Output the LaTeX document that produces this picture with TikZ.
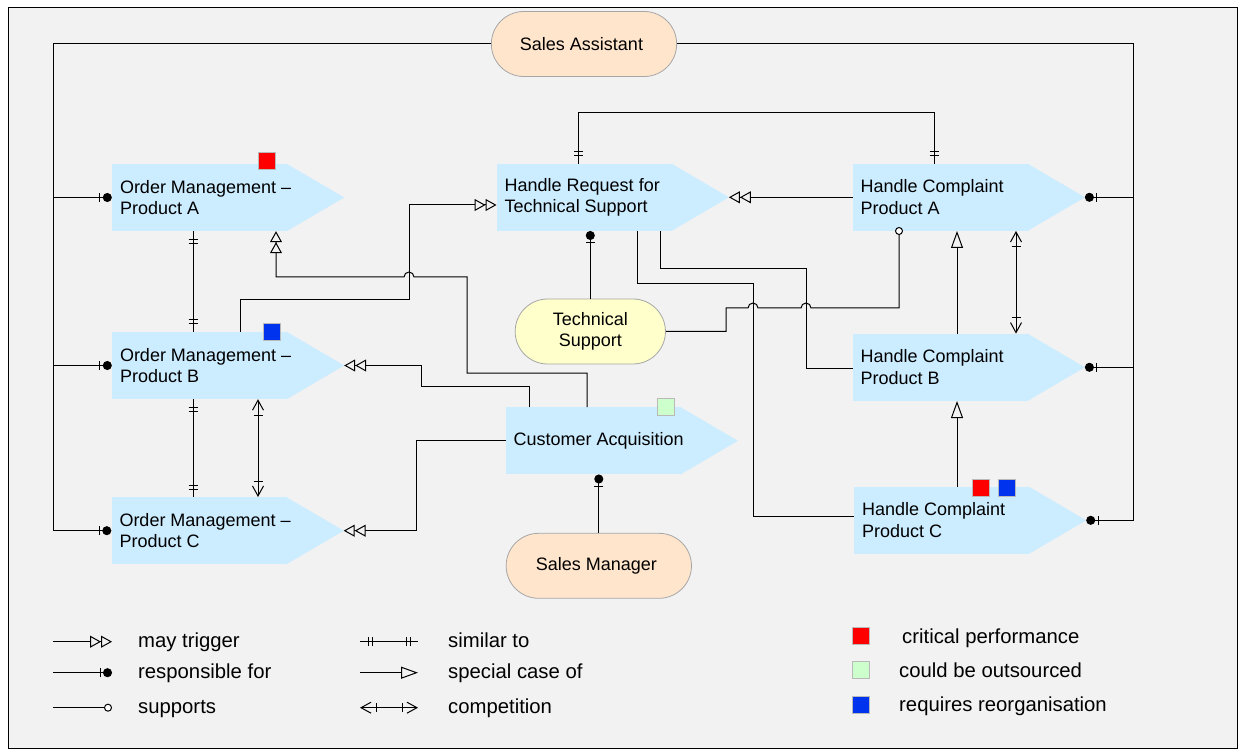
\documentclass[tikz,border=0pt]{standalone}
\usepackage{fontspec}
\setmainfont{Liberation Sans}
\usetikzlibrary{arrows.meta, shapes.misc, decorations.markings}

\definecolor{bg}{HTML}{F2F2F2}
\definecolor{procblue}{RGB}{204,236,255}
\definecolor{peach}{RGB}{255,229,204}
\definecolor{techyellow}{RGB}{255,255,204}
\definecolor{rolegray}{HTML}{A6A6A6}
\definecolor{critred}{HTML}{FF0000}
\definecolor{outgreen}{HTML}{CCFFCC}
\definecolor{reorgblue}{HTML}{0033EE}

\tikzset{
  proc/.style={rectangle, fill=procblue, minimum width=175pt, minimum height=67pt, inner sep=0pt},
  proctext/.style={anchor=west, align=left, inner xsep=8pt, inner ysep=0pt},
  role/.style={rounded rectangle, draw=rolegray, line width=0.8pt, minimum height=65pt, align=center},
  flagbox/.style={draw=gray!55, line width=0.6pt, minimum size=17pt, inner sep=0pt},
  keytext/.style={anchor=base west, inner sep=0pt, font=\fontsize{20.3}{24}\selectfont},
  conn/.style={line width=1pt},
  startbar/.style={postaction={decorate, decoration={markings,
    mark=at position #1 with {\draw [-] (0pt, -4.5pt) -- (0pt, 4.5pt);}}}},
  endbar/.style={postaction={decorate, decoration={markings,
    mark=at position -#1 with {\draw [-] (0pt, -4.5pt) -- (0pt, 4.5pt);}}}},
  trigger/.style={conn, -{Triangle[fill=bg, length=11pt, width=12pt, sep=0pt] Triangle[fill=bg, length=11pt, width=12pt, sep=0pt]}},
  resp/.style={conn, -{Circle[length=9pt]}, endbar=12pt},
  supp/.style={conn, -{Circle[fill=white, length=8pt]}},
  speccase/.style={conn, -{Triangle[fill=bg, length=17pt, width=12pt]}},
  similar/.style={conn, startbar=8pt, startbar=12pt, endbar=8pt, endbar=12pt},
  compete/.style={conn, {Straight Barb[length=10pt, width=11pt]}-{Straight Barb[length=10pt, width=11pt]}, startbar=16pt, endbar=16pt},
}

\begin{document}
\begin{tikzpicture}[x=1pt, y=-1pt, font=\fontsize{18}{21.5}\selectfont]

\useasboundingbox (0, 0) rectangle (1245, 751);

% frame
\draw [line width=1pt, fill=bg] (8, 8) rectangle (1237, 748);

%% Processes (body, pointed end, text)
\foreach \n/\x/\y/\txt in {
    omA/199.5/197.5/{Order Management – \\ Product A},
    omB/199.5/365.5/{Order Management – \\ Product B},
    omC/199/530.7/{Order Management – \\ Product C},
    hrts/584.2/197.3/{Handle Request for \\ Technical Support},
    hcA/940.2/197.3/{Handle Complaint \\ Product A},
    hcB/940.2/367.3/{Handle Complaint \\ Product B},
    hcC/941.5/520.3/{Handle Complaint \\ Product C},
    ca/593.2/440.8/{Customer Acquisition}} {
  \node (\n) at (\x, \y) [proc] {};
  \fill [procblue] ([xshift=-0.5pt]\n.north east) -- ([xshift=57pt]\n.east) coordinate (\n-tip) -- ([xshift=-0.5pt]\n.south east) -- cycle;
  \node (\n-text) at (\n.west) [proctext] { \txt };
}

%% Roles
\node (sa) at (584, 44) [role, fill=peach, minimum width=192pt] { Sales Assistant };
\node (ts) at (590.3, 331.5) [role, fill=techyellow, minimum width=157pt] { Technical \\ Support };
\node (sm) at (598.8, 565.8) [role, fill=peach, minimum width=192pt] { Sales Manager };

%% Connectors

% Sales Assistant responsible
\coordinate (lbus) at (53, 0);
\coordinate (rbus) at (1133, 0);
\draw [resp] (sa.west) -| (lbus |- omC.west) -- (omC.west);
\draw [resp] (lbus |- omA.west) -- (omA.west);
\draw [resp] (lbus |- omB.west) -- (omB.west);
\draw [resp] (sa.east) -| (rbus |- hcC-tip) -- (hcC-tip);
\draw [resp] (rbus |- hcA-tip) -- (hcA-tip);
\draw [resp] (rbus |- hcB-tip) -- (hcB-tip);

% similar to
\draw [similar] (193, 0 |- omA.south) -- (193, 0 |- omB.north);
\draw [similar] (193, 0 |- omB.south) -- (193, 0 |- omC.north);
\draw [similar] (578, 0 |- hrts.north) |- (934, 113) -- (934, 0 |- hcA.north);

% competition
\draw [compete] (258, 0 |- omB.south) -- (258, 0 |- omC.north);
\draw [compete] (1016, 0 |- hcA.south) -- (1016, 0 |- hcB.north);

% special case of
\draw [speccase] (957, 0 |- hcB.north) -- (957, 0 |- hcA.south);
\draw [speccase] (957, 0 |- hcC.north) -- (957, 0 |- hcB.south);

% may trigger
\draw [trigger] (hcA.west) -- (hrts-tip);
\draw [trigger] (240, 0 |- omB.north) |- (409, 300) |- (hrts.west |- 0, 205);
\draw [trigger] (587, 0 |- ca.north) |- (467, 373) |- (414, 277)
  arc [start angle=0, end angle=180, radius=5pt] -- (276, 277) -- (276, 0 |- omA.south);
\draw [trigger] (529, 0 |- ca.north) |- (421, 386) |- (omB-tip);
\draw [trigger] (ca.west) -| (416, 0 |- omC-tip) -- (omC-tip);

% responsible for
\draw [resp] (ts.north) -- (ts.north |- hrts.south);
\draw [resp] (sm.north) -- (sm.north |- ca.south);

% plain links
\draw [conn] (637, 0 |- hrts.south) |- (753, 284) |- (hcC.west |- 0, 516);
\draw [conn] (660, 0 |- hrts.south) |- (806, 269) |- (hcB.west |- 0, 368);

% supports
\draw [supp, shorten >=-4pt] (ts.east) -| (726, 308) -- (748, 308)
  arc [start angle=180, end angle=0, radius=5pt] -- (801, 308)
  arc [start angle=180, end angle=0, radius=5pt] -| (899, 0 |- hcA.south);

%% Flags
\node (flagOmA) at (266.7, 161) [flagbox, fill=critred] {};
\node (flagOmB) at (272, 332) [flagbox, fill=reorgblue] {};
\node (flagCa) at (666.2, 407) [flagbox, fill=outgreen] {};
\node (flagHcC1) at (980.8, 488) [flagbox, fill=critred] {};
\node (flagHcC2) at (1007.2, 488) [flagbox, fill=reorgblue] {};

%% Legend
\foreach \y/\sty/\txt/\nm in {641.7/trigger/may trigger/kTrig, 672.7/resp/responsible for/kResp, 707.7/supp/supports/kSupp} {
  \coordinate (\nm-a) at (53, \y);
  \coordinate (\nm-b) at (112, \y);
  \draw [\sty] (\nm-a) -- (\nm-b);
  \node (\nm) at (138, \y+6) [keytext] { \txt };
}
\foreach \y/\sty/\txt/\nm in {641.7/similar/similar to/kSim, 672.7/speccase/special case of/kSpec, 707.7/compete/competition/kComp} {
  \coordinate (\nm-a) at (360, \y);
  \coordinate (\nm-b) at (418, \y);
  \draw [\sty] (\nm-a) -- (\nm-b);
  \node (\nm) at (448, \y+6) [keytext] { \txt };
}
\node (kRed) at (860.8, 636) [flagbox, fill=critred] {};
\node (kRedT) at (902, 643.3) [keytext] { critical performance };
\node (kGreen) at (860.8, 670) [flagbox, fill=outgreen] {};
\node (kGreenT) at (899, 677.7) [keytext] { could be outsourced };
\node (kBlue) at (860.8, 705) [flagbox, fill=reorgblue] {};
\node (kBlueT) at (899, 711.7) [keytext] { requires reorganisation };

\end{tikzpicture}
\end{document}
